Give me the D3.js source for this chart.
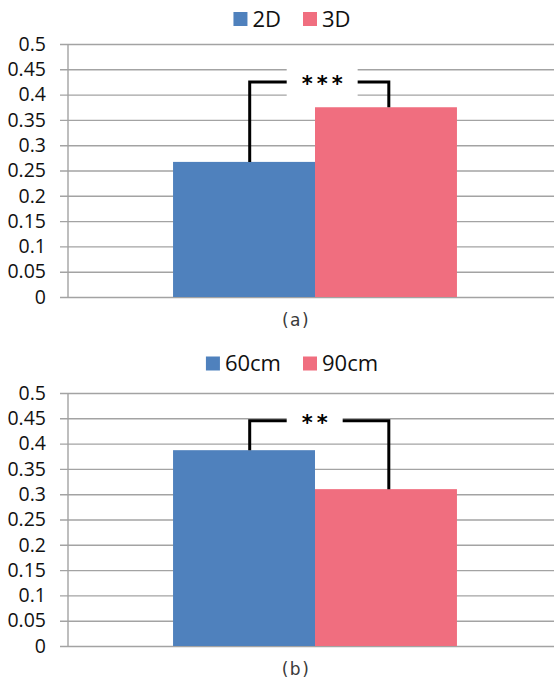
<!DOCTYPE html>
<html>
<head>
<meta charset="utf-8">
<script src="https://cdn.jsdelivr.net/npm/d3@7"></script>
<style>
  html, body { margin: 0; padding: 0; background: #fff; }
  svg { display: block; }
</style>
</head>
<body>
<svg id="chart" width="554" height="680"></svg>
<script>
// Y axis ticks shared by both panels
const tickValues = [0, 0.05, 0.1, 0.15, 0.2, 0.25, 0.3, 0.35, 0.4, 0.45, 0.5];
const tickLabels = ["0", "0.05", "0.1", "0.15", "0.2", "0.25", "0.3", "0.35", "0.4", "0.45", "0.5"];

// Panel (a): display type
const seriesA = ["2D", "3D"];
const valuesA = [0.267, 0.375];
const markA = "***";
const bracketA = 0.425;

// Panel (b): viewing distance
const seriesB = ["60cm", "90cm"];
const valuesB = [0.387, 0.31];
const markB = "**";
const bracketB = 0.445;

const colors = ["#4F81BD", "#F06E7F"];
const captions = ["(a)", "(b)"];

const svg = d3.select("#chart");
const W = 554;
const axisX = 68;
const plotH = 253;
const gridColor = "#a3a3a3";

function drawPanel(series, values, mark, level, caption, top, legendY, captionY) {
  const g = svg.append("g");
  const y = d3.scaleLinear().domain([0, 0.5]).range([top + plotH, top]);

  // single category group, two series bars inside it
  const outer = d3.scaleBand().domain(["g"]).range([axisX, axisX + 494]).paddingOuter(0.37).paddingInner(0);
  const inner = d3.scaleBand().domain(series).range([0, outer.bandwidth()]);
  const color = d3.scaleOrdinal().domain(series).range(colors);
  const x0 = outer("g");

  // horizontal gridlines (also serve as tick marks left of the axis)
  const grid = g.append("g")
    .attr("transform", `translate(${axisX - 8},0)`)
    .call(d3.axisRight(y).tickValues(tickValues).tickSize(W - (axisX - 8)).tickFormat(""));
  grid.select(".domain").remove();
  grid.selectAll(".tick line").attr("stroke", gridColor).attr("stroke-width", 1.4);

  // tick labels
  const labels = g.append("g")
    .attr("transform", `translate(${axisX - 8},0)`)
    .call(d3.axisLeft(y).tickValues(tickValues).tickSize(0).tickPadding(14)
      .tickFormat((d, i) => tickLabels[i]));
  labels.select(".domain").remove();
  labels.selectAll(".tick text")
    .attr("font-family", "'Open Sans', sans-serif")
    .attr("font-size", 19.5)
    .attr("fill", "#111");

  // vertical axis line
  g.append("line")
    .attr("x1", axisX).attr("x2", axisX)
    .attr("y1", y(0)).attr("y2", y(0.5))
    .attr("stroke", gridColor).attr("stroke-width", 1.4);

  // bars
  g.selectAll("rect.bar")
    .data(series.map((s, i) => ({ s, v: values[i] })))
    .join("rect")
    .attr("class", "bar")
    .attr("x", d => x0 + inner(d.s))
    .attr("width", inner.bandwidth())
    .attr("y", d => y(d.v))
    .attr("height", d => y(0) - y(d.v))
    .attr("fill", d => color(d.s));

  // significance bracket
  const lx = x0 + inner(series[0]) + inner.bandwidth() * 0.54;
  const rx = x0 + inner(series[1]) + inner.bandwidth() * 0.52;
  const ly = y(level);
  g.append("path")
    .attr("d", `M${lx},${y(values[0])}V${ly}H${rx}V${y(values[1])}`)
    .attr("fill", "none")
    .attr("stroke", "#000")
    .attr("stroke-width", 3)
    .attr("stroke-linejoin", "miter");

  const boxX = lx + 37;
  const box = g.append("rect").attr("fill", "#fff");
  const txt = g.append("text")
    .attr("x", boxX + 15)
    .attr("y", ly + 9)
    .attr("font-family", "'DejaVu Sans', sans-serif")
    .attr("font-weight", "bold")
    .attr("font-size", 21)
    .attr("letter-spacing", 4)
    .attr("fill", "#000")
    .text(mark);
  const tw = txt.node().getComputedTextLength();
  box.attr("x", boxX).attr("y", ly - 17)
    .attr("width", tw + 26).attr("height", 34);

  // legend
  const lg = g.append("g");
  let cx = 0;
  series.forEach((s, i) => {
    lg.append("rect")
      .attr("x", cx).attr("y", legendY - 7)
      .attr("width", 14).attr("height", 14)
      .attr("fill", color(s));
    const t = lg.append("text")
      .attr("x", cx + 19).attr("y", legendY)
      .attr("dy", "0.36em")
      .attr("font-family", "'Open Sans', sans-serif")
      .attr("font-size", 22)
      .attr("fill", "#111")
      .text(s);
    cx += 19 + t.node().getBBox().width + 22;
  });
  const lw = cx - 22;
  lg.attr("transform", `translate(${292 - lw / 2},0)`);

  // caption
  g.append("text")
    .attr("x", 296).attr("y", captionY)
    .attr("dy", "0.35em")
    .attr("text-anchor", "middle")
    .attr("font-family", "'DejaVu Sans', sans-serif")
    .attr("font-size", 17)
    .attr("letter-spacing", 1.5)
    .attr("fill", "#3a3a3a")
    .text(caption);
}

drawPanel(seriesA, valuesA, markA, bracketA, captions[0], 44, 19, 320);
drawPanel(seriesB, valuesB, markB, bracketB, captions[1], 393, 363.5, 669);
</script>
</body>
</html>
